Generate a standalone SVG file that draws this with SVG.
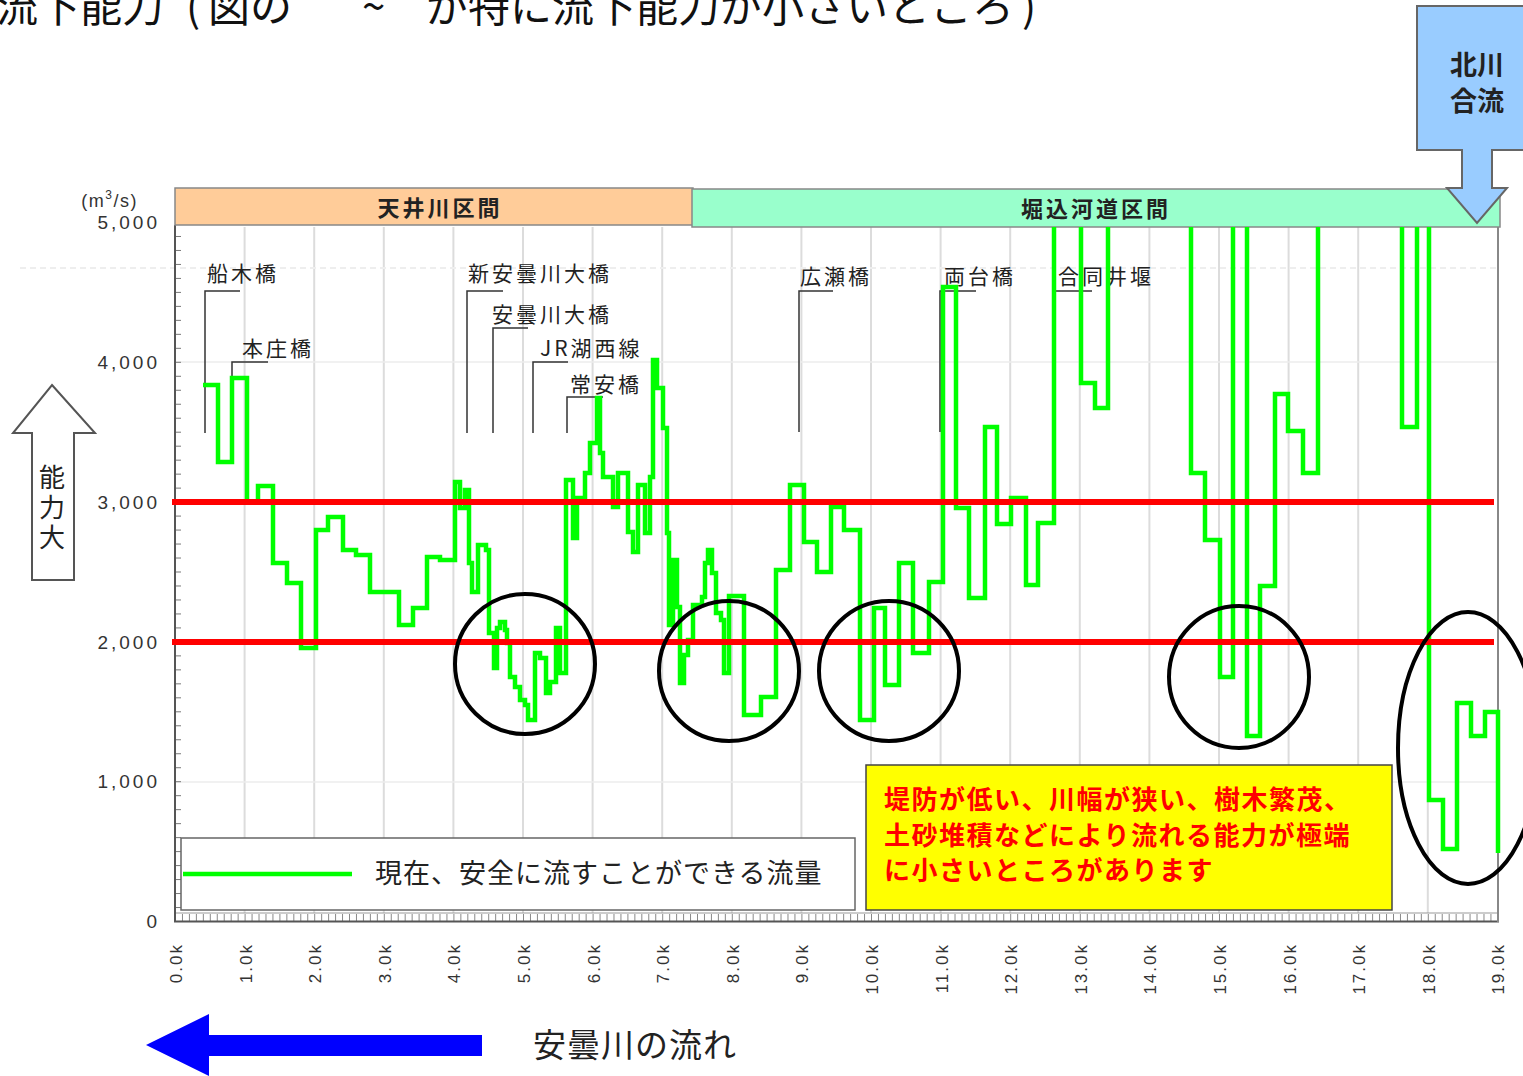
<svg xmlns="http://www.w3.org/2000/svg" width="1523" height="1076" viewBox="0 0 1523 1076">
<style>
.jp{font-family:"Noto Sans CJK JP","Noto Sans",sans-serif;}
.num{font-family:"Liberation Sans",Arial,sans-serif;fill:#333;}
.grid{stroke:#dcdcdc;stroke-width:2;}
.leader{stroke:#333;stroke-width:1.5;fill:none;}
.bridge{font-size:21px;letter-spacing:3px;fill:#222;}
.ring{fill:none;stroke:#000;stroke-width:4;}
.xl{font-size:17px;letter-spacing:2px;text-anchor:end;}
.yl{font-size:19px;letter-spacing:3px;text-anchor:end;}
</style>
<defs>
<clipPath id="plotclip"><rect x="170" y="227" width="1335" height="700"/></clipPath>
<pattern id="ytick" patternUnits="userSpaceOnUse" x="0" y="222" width="10" height="13.98"><line x1="0" y1="0.5" x2="10" y2="0.5" stroke="#777" stroke-width="1"/></pattern>
<pattern id="xtick" patternUnits="userSpaceOnUse" x="175" y="0" width="6.96" height="10"><line x1="0.5" y1="0" x2="0.5" y2="10" stroke="#888" stroke-width="1"/></pattern>
</defs>
<rect width="1523" height="1076" fill="#fff"/>

<g id="title">
<text class="jp" y="22" font-size="42" fill="#111"><tspan x="-4">流下能力</tspan><tspan x="186">(</tspan><tspan x="208">図の</tspan><tspan x="362">~</tspan><tspan x="426">が特に流下能力が小さいところ</tspan><tspan x="1022">)</tspan></text>
</g>

<g id="grid">
<line class="grid" x1="244.6" y1="227" x2="244.6" y2="913"/>
<line class="grid" x1="314.2" y1="227" x2="314.2" y2="913"/>
<line class="grid" x1="383.8" y1="227" x2="383.8" y2="913"/>
<line class="grid" x1="453.4" y1="227" x2="453.4" y2="913"/>
<line class="grid" x1="523" y1="227" x2="523" y2="913"/>
<line class="grid" x1="592.6" y1="227" x2="592.6" y2="913"/>
<line class="grid" x1="662.2" y1="227" x2="662.2" y2="913"/>
<line class="grid" x1="731.8" y1="227" x2="731.8" y2="913"/>
<line class="grid" x1="801.4" y1="227" x2="801.4" y2="913"/>
<line class="grid" x1="871" y1="227" x2="871" y2="913"/>
<line class="grid" x1="940.6" y1="227" x2="940.6" y2="913"/>
<line class="grid" x1="1010.2" y1="227" x2="1010.2" y2="913"/>
<line class="grid" x1="1079.8" y1="227" x2="1079.8" y2="913"/>
<line class="grid" x1="1149.4" y1="227" x2="1149.4" y2="913"/>
<line class="grid" x1="1219" y1="227" x2="1219" y2="913"/>
<line class="grid" x1="1288.6" y1="227" x2="1288.6" y2="913"/>
<line class="grid" x1="1358.2" y1="227" x2="1358.2" y2="913"/>
<line class="grid" x1="1427.8" y1="227" x2="1427.8" y2="913"/>
<line x1="20" y1="268" x2="1498" y2="268" stroke="#eeeeee" stroke-width="2" stroke-dasharray="6 4"/>
<line x1="175" y1="362" x2="1498" y2="362" stroke="#ececec" stroke-width="1.5"/>
<line x1="175" y1="782" x2="1498" y2="782" stroke="#ececec" stroke-width="1.5"/>
</g>

<g id="axes">
<rect x="175" y="222" width="6" height="700" fill="url(#ytick)"/>
<rect x="175" y="914" width="1323" height="7" fill="url(#xtick)"/>
<line x1="175" y1="913" x2="1498" y2="913" stroke="#999" stroke-width="1"/>
<line x1="175" y1="225" x2="175" y2="922" stroke="#555" stroke-width="2"/>
<line x1="174" y1="921.5" x2="1499" y2="921.5" stroke="#555" stroke-width="2"/>
<line x1="1498" y1="227" x2="1498" y2="922" stroke="#888" stroke-width="2"/>
<text class="num" x="138" y="207" font-size="18" letter-spacing="1.5" text-anchor="end">(m<tspan dy="-8" font-size="12">3</tspan><tspan dy="8">/s)</tspan></text>
<text class="num yl" x="160" y="229">5,000</text>
<text class="num yl" x="160" y="369">4,000</text>
<text class="num yl" x="160" y="509">3,000</text>
<text class="num yl" x="160" y="649">2,000</text>
<text class="num yl" x="160" y="788">1,000</text>
<text class="num yl" x="160" y="928">0</text>
<g class="num xl">
<text transform="translate(182,943) rotate(-90)">0.0k</text>
<text transform="translate(251.6,943) rotate(-90)">1.0k</text>
<text transform="translate(321.2,943) rotate(-90)">2.0k</text>
<text transform="translate(390.8,943) rotate(-90)">3.0k</text>
<text transform="translate(460.4,943) rotate(-90)">4.0k</text>
<text transform="translate(530,943) rotate(-90)">5.0k</text>
<text transform="translate(599.6,943) rotate(-90)">6.0k</text>
<text transform="translate(669.2,943) rotate(-90)">7.0k</text>
<text transform="translate(738.8,943) rotate(-90)">8.0k</text>
<text transform="translate(808.4,943) rotate(-90)">9.0k</text>
<text transform="translate(878,943) rotate(-90)">10.0k</text>
<text transform="translate(947.6,943) rotate(-90)">11.0k</text>
<text transform="translate(1017.2,943) rotate(-90)">12.0k</text>
<text transform="translate(1086.8,943) rotate(-90)">13.0k</text>
<text transform="translate(1156.4,943) rotate(-90)">14.0k</text>
<text transform="translate(1226,943) rotate(-90)">15.0k</text>
<text transform="translate(1295.6,943) rotate(-90)">16.0k</text>
<text transform="translate(1365.2,943) rotate(-90)">17.0k</text>
<text transform="translate(1434.8,943) rotate(-90)">18.0k</text>
<text transform="translate(1504.4,943) rotate(-90)">19.0k</text>
</g>
</g>

<g id="section-tenjogawa">
<rect x="175" y="188" width="518" height="37" fill="#ffcc99" stroke="#888" stroke-width="1.5"/>
<text class="jp" x="440" y="216" font-size="22" font-weight="bold" letter-spacing="3" text-anchor="middle" fill="#222">天井川区間</text>
</g>
<g id="section-horikomi">
<rect x="692" y="189" width="808" height="38" fill="#99ffcc" stroke="#888" stroke-width="1.5"/>
<text class="jp" x="1096" y="217" font-size="22" font-weight="bold" letter-spacing="3" text-anchor="middle" fill="#222">堀込河道区間</text>
</g>

<g id="bridges">
<g id="b-funaki"><path class="leader" d="M240,291 H205 V433"/><text class="jp bridge" x="207" y="281">船木橋</text></g>
<g id="b-honjo"><path class="leader" d="M268,362 H232 V433"/><text class="jp bridge" x="242" y="356">本庄橋</text></g>
<g id="b-shinado"><path class="leader" d="M503,291 H467 V433"/><text class="jp bridge" x="468" y="281">新安曇川大橋</text></g>
<g id="b-ado"><path class="leader" d="M528,328 H493 V433"/><text class="jp bridge" x="492" y="322">安曇川大橋</text></g>
<g id="b-jr"><path class="leader" d="M568,362 H533 V433"/><text class="jp bridge" x="540" y="356">JR湖西線</text></g>
<g id="b-joan"><path class="leader" d="M603,397 H567 V433"/><text class="jp bridge" x="570" y="392">常安橋</text></g>
<g id="b-hirose"><path class="leader" d="M833,291 H799 V432"/><text class="jp bridge" x="800" y="284">広瀬橋</text></g>
<g id="b-ryodai"><path class="leader" d="M976,291 H940 V432"/><text class="jp bridge" x="944" y="284">両台橋</text></g>
<g id="b-godo"><path class="leader" d="M1092,291 H1054 V432"/><text class="jp bridge" x="1058" y="284">合同井堰</text></g>
</g>

<g id="flow-line" clip-path="url(#plotclip)">
<polyline fill="none" stroke="#00ff00" stroke-width="4.5" stroke-linejoin="miter" points="203,385 218,385 218,462 232,462 232,378 247,378 247,502 258,502 258,486 273,486 273,563 287,563 287,583 301,583 301,648 316,648 316,530 328,530 328,517 343,517 343,550 356,550 356,555 370,555 370,592 399,592 399,625 413,625 413,608 427,608 427,557 440,557 440,560 455,560 455,482 460,482 460,508 465,508 465,490 469,490 469,563 472,563 472,592 478,592 478,545 486,545 486,550 489,550 489,633 494,633 494,668 497,668 497,628 500,628 500,622 505,622 505,630 507,630 507,643 510,643 510,677 515,677 515,687 520,687 520,700 525,700 525,705 528,705 528,720 535,720 535,653 540,653 540,658 546,658 546,693 550,693 550,682 556,682 556,628 560,628 560,673 566,673 566,480 573,480 573,538 577,538 577,498 585,498 585,473 590,473 590,443 597,443 597,398 600,398 600,453 603,453 603,477 613,477 613,507 618,507 618,473 628,473 628,532 633,532 633,552 638,552 638,485 645,485 645,533 650,533 650,477 653,477 653,360 657,360 657,388 663,388 663,428 667,428 667,533 669,533 669,625 673,625 673,560 677,560 677,607 680,607 680,683 684,683 684,655 688,655 688,640 693,640 693,605 702,605 702,597 705,597 705,563 708,563 708,550 712,550 712,573 716,573 716,613 721,613 721,620 724,620 724,673 729,673 729,596 744,596 744,715 761,715 761,697 776,697 776,570 790,570 790,485 804,485 804,542 817,542 817,572 831,572 831,507 844,507 844,530 860,530 860,720 874,720 874,608 885,608 885,685 899,685 899,563 913,563 913,653 929,653 929,582 943,582 943,287 956,287 956,508 969,508 969,598 985,598 985,427 997,427 997,524 1011,524 1011,498 1026,498 1026,585 1038,585 1038,523 1054,523 1054,200 1081,200 1081,383 1095,383 1095,408 1108,408 1108,200 1191,200 1191,473 1205,473 1205,540 1220,540 1220,677 1233,677 1233,200 1247,200 1247,736 1260,736 1260,586 1275,586 1275,394 1288,394 1288,431 1303,431 1303,473 1318,473 1318,200 1402,200 1402,427 1417,427 1417,200 1429,200 1429,800 1443,800 1443,849 1457,849 1457,703 1471,703 1471,736 1485,736 1485,712 1498,712 1498,853"/>
</g>

<g id="thresholds">
<line x1="172" y1="502" x2="1494" y2="502" stroke="#ff0000" stroke-width="6"/>
<line x1="172" y1="642" x2="1494" y2="642" stroke="#ff0000" stroke-width="6"/>
</g>

<g id="low-spots">
<circle id="spot1" class="ring" cx="525" cy="664" r="70"/>
<circle id="spot2" class="ring" cx="729" cy="671" r="70"/>
<circle id="spot3" class="ring" cx="889" cy="671" r="70"/>
<ellipse id="spot4" class="ring" cx="1239" cy="677" rx="70" ry="71"/>
<ellipse id="spot5" class="ring" cx="1468" cy="748" rx="70" ry="136"/>
</g>

<g id="legend">
<rect x="181" y="838" width="674" height="72" fill="#fff" stroke="#666" stroke-width="1.5"/>
<line x1="183" y1="874" x2="352" y2="874" stroke="#00ff00" stroke-width="4.5"/>
<text class="jp" x="375" y="883" font-size="27" letter-spacing="1" fill="#222">現在、安全に流すことができる流量</text>
</g>

<g id="note">
<rect x="866" y="765" width="526" height="145" fill="#ffff00" stroke="#444" stroke-width="1.5"/>
<text class="jp" font-size="26" font-weight="bold" letter-spacing="1.5" fill="#ff0000"><tspan x="884" y="809">堤防が低い、川幅が狭い、樹木繁茂、</tspan><tspan x="884" y="845">土砂堆積などにより流れる能力が極端</tspan><tspan x="884" y="880">に小さいところがあります</tspan></text>
</g>

<g id="capacity-arrow">
<polygon points="52,385 95,433 74,433 74,580 32,580 32,433 13,433" fill="#fff" stroke="#555" stroke-width="2"/>
<text class="jp" x="52" y="464" font-size="26" letter-spacing="4" writing-mode="vertical-rl" fill="#222">能力大</text>
</g>

<g id="kitagawa">
<polygon points="1417,6 1530,6 1530,150 1492,150 1492,188 1507,188 1477,223 1447,188 1462,188 1462,150 1417,150" fill="#99ccff" stroke="#666" stroke-width="2"/>
<text class="jp" x="1477" y="75" font-size="27" font-weight="bold" text-anchor="middle" fill="#222">北川</text>
<text class="jp" x="1477" y="111" font-size="27" font-weight="bold" text-anchor="middle" fill="#222">合流</text>
</g>

<g id="river-flow">
<polygon points="146,1045 209,1014 209,1035 482,1035 482,1056 209,1056 209,1076" fill="#0000ff"/>
<text class="jp" x="533" y="1057" font-size="33" letter-spacing="1" fill="#222">安曇川の流れ</text>
</g>
</svg>
